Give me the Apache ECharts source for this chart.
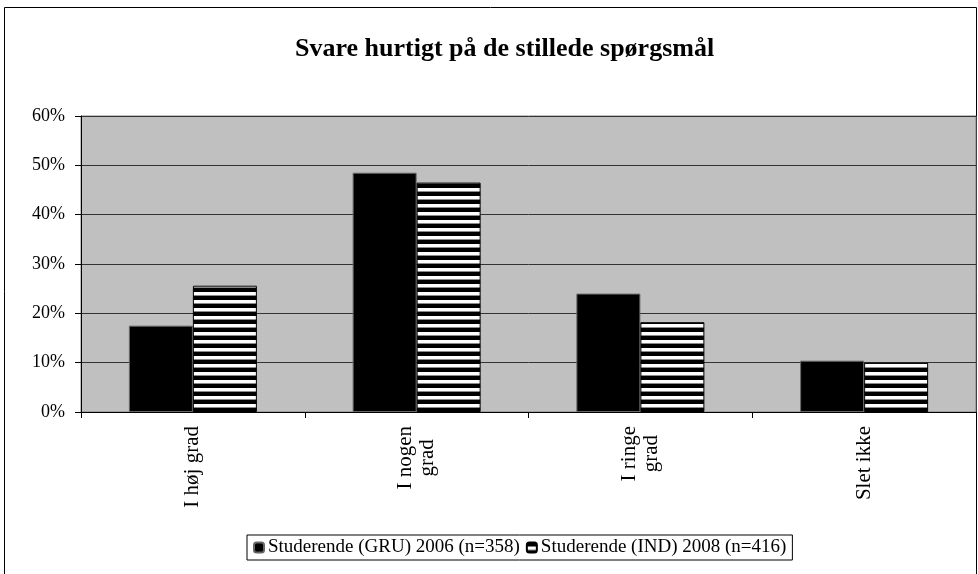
<!DOCTYPE html>
<html>
<head>
<meta charset="utf-8">
<title>Svare hurtigt på de stillede spørgsmål</title>
<script src="https://cdn.jsdelivr.net/npm/echarts@6/dist/echarts.min.js"></script>
<style>
  html, body { margin: 0; padding: 0; background: #fff; }
  #chart { width: 978px; height: 574px; }
</style>
</head>
<body>
<div id="chart"></div>
<script>
// data (percent)
const categories = ["I høj grad", "I nogen\ngrad", "I ringe\ngrad", "Slet ikke"];
const gru2006 = [17.5, 48.5, 24.0, 10.4];
const ind2008 = [25.6, 46.5, 18.2, 10.0];
const seriesNames = ["Studerende (GRU) 2006 (n=358)", "Studerende (IND) 2008 (n=416)"];
const yMin = 0, yMax = 60, yStep = 10;

const FONT = "'Liberation Serif', 'DejaVu Serif', serif";

// horizontal stripes for the second series
function stripePattern() {
  const c = document.createElement("canvas");
  c.width = 8;
  c.height = 8;
  const ctx = c.getContext("2d");
  ctx.fillStyle = "#000";
  ctx.fillRect(0, 0, 8, 8);
  ctx.fillStyle = "#fff";
  ctx.fillRect(0, 4, 8, 3);
  ctx.fillStyle = "#8a8a8a";
  ctx.fillRect(0, 7, 8, 1);
  return c;
}

const chart = echarts.init(document.getElementById("chart"));

const option = {
  animation: false,
  backgroundColor: "#fff",
  textStyle: { fontFamily: FONT, color: "#000" },
  graphic: [
    {
      type: "rect",
      shape: { x: 4.5, y: 7.5, width: 972, height: 600 },
      style: { fill: "none", stroke: "#000", lineWidth: 1 },
      z: -1
    }
  ],
  title: {
    text: "Svare hurtigt på de stillede spørgsmål",
    left: 290,
    top: 31,
    textStyle: { fontFamily: FONT, fontSize: 26, fontWeight: "bold", color: "#000" }
  },
  legend: {
    left: 247,
    top: 535,
    padding: [3, 6],
    itemWidth: 10,
    itemHeight: 10,
    itemGap: 6,
    backgroundColor: "#fff",
    borderColor: "#000",
    borderWidth: 1,
    textStyle: { fontFamily: FONT, fontSize: 19, color: "#000", padding: [0, 0, 0, -1] },
    data: seriesNames
  },
  grid: {
    left: 81,
    right: 2,
    top: 116,
    bottom: 162,
    show: true,
    backgroundColor: "#c0c0c0",
    borderColor: "#808080",
    borderWidth: 1
  },
  xAxis: {
    type: "category",
    data: categories,
    axisLine: { lineStyle: { color: "#000", width: 1 } },
    axisTick: { show: true, length: 6, lineStyle: { color: "#000" } },
    axisLabel: {
      rotate: 90,
      margin: 14,
      fontFamily: FONT,
      fontSize: 21,
      color: "#000",
      // each line centred inside the label block
      formatter: function (v) {
        return v.split("\n").map(function (s) { return "{c|" + s + "}"; }).join("\n");
      },
      rich: {
        c: { align: "center", fontFamily: FONT, fontSize: 21, color: "#000", lineHeight: 22 }
      }
    }
  },
  yAxis: {
    type: "value",
    min: yMin,
    max: yMax,
    interval: yStep,
    axisLine: { show: true, lineStyle: { color: "#000", width: 1 } },
    axisTick: { show: true, length: 6, lineStyle: { color: "#000" } },
    splitLine: { lineStyle: { color: "#333", width: 1 } },
    axisLabel: {
      margin: 16,
      fontFamily: FONT,
      fontSize: 18,
      color: "#000",
      formatter: "{value}%"
    }
  },
  series: [
    {
      name: seriesNames[0],
      type: "bar",
      data: gru2006,
      barWidth: 64,
      barGap: "0%",
      itemStyle: { color: "#000", borderColor: "#666", borderWidth: 1 }
    },
    {
      name: seriesNames[1],
      type: "bar",
      data: ind2008,
      barWidth: 64,
      barGap: "0%",
      itemStyle: {
        color: { image: stripePattern(), repeat: "repeat" },
        borderColor: "#000",
        borderWidth: 1
      }
    }
  ]
};

chart.setOption(option);
</script>
</body>
</html>
